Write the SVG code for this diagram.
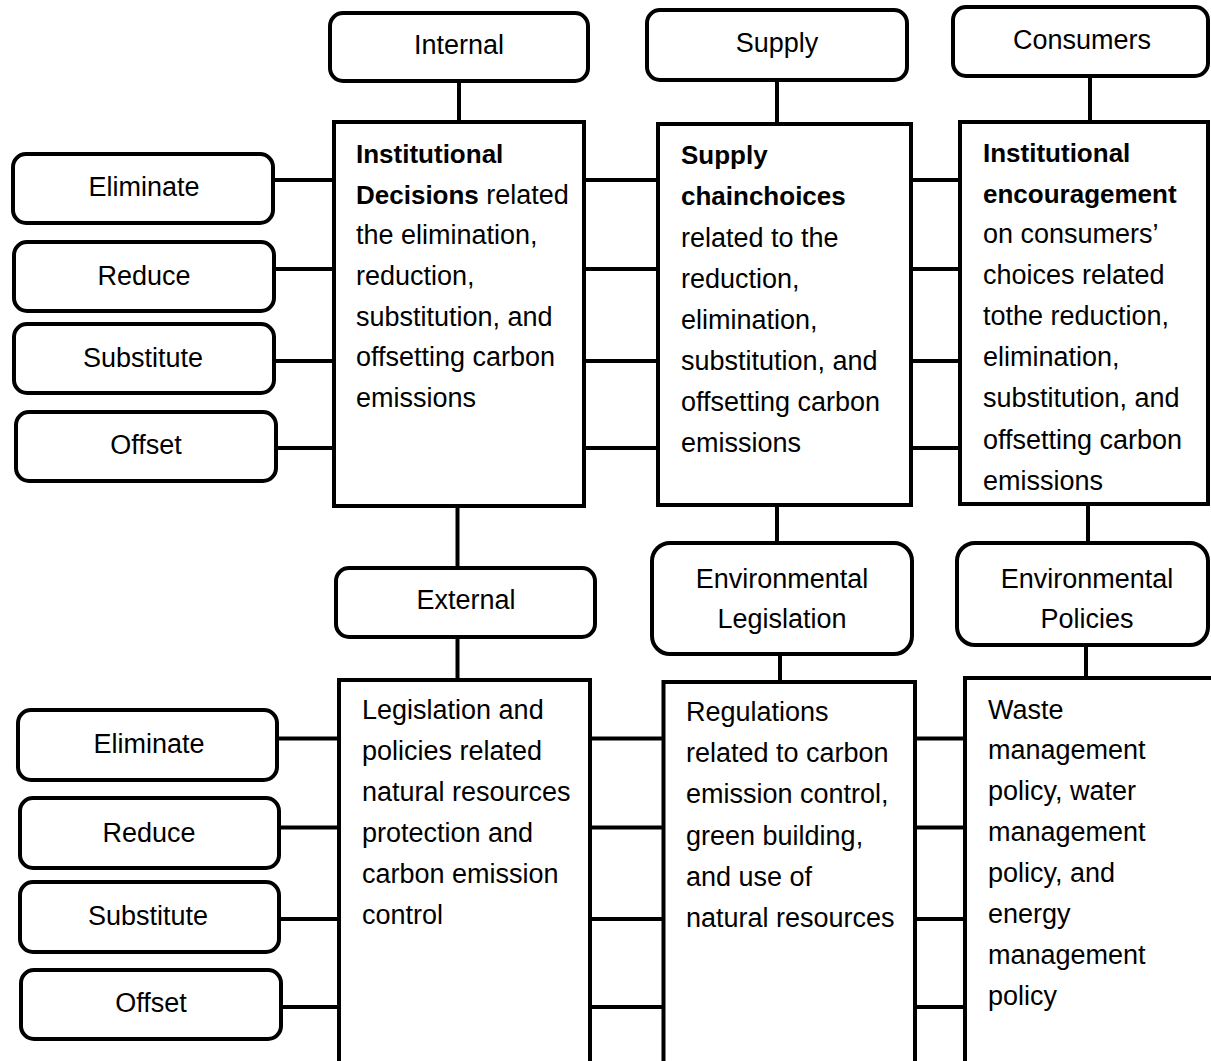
<svg xmlns="http://www.w3.org/2000/svg" width="1211" height="1061" viewBox="0 0 1211 1061">
<style>
.rb{fill:#fff;stroke:#000;stroke-width:4}
.bx{fill:#fff;stroke:#000;stroke-width:4}
.c{stroke:#000;stroke-width:4;fill:none}
text{font-family:"Liberation Sans",Arial,sans-serif;font-size:27px;fill:#000}
.m{text-anchor:middle}
.b{font-weight:bold;font-size:26px}
</style>
<rect width="1211" height="1061" fill="#fff"/>
<g id="connectors">
<line class="c" x1="459" y1="81" x2="459" y2="122"/>
<line class="c" x1="777" y1="80" x2="777" y2="124"/>
<line class="c" x1="1090" y1="76" x2="1090" y2="122"/>
<line class="c" x1="273" y1="180" x2="334" y2="180"/>
<line class="c" x1="274" y1="269" x2="334" y2="269"/>
<line class="c" x1="274" y1="361" x2="334" y2="361"/>
<line class="c" x1="276" y1="448" x2="334" y2="448"/>
<line class="c" x1="584" y1="180" x2="658" y2="180"/>
<line class="c" x1="584" y1="269" x2="658" y2="269"/>
<line class="c" x1="584" y1="361" x2="658" y2="361"/>
<line class="c" x1="584" y1="448" x2="658" y2="448"/>
<line class="c" x1="911" y1="180" x2="960" y2="180"/>
<line class="c" x1="911" y1="269" x2="960" y2="269"/>
<line class="c" x1="911" y1="361" x2="960" y2="361"/>
<line class="c" x1="911" y1="448" x2="960" y2="448"/>
<line class="c" x1="457.5" y1="506" x2="457.5" y2="568"/>
<line class="c" x1="777" y1="505" x2="777" y2="543"/>
<line class="c" x1="1088" y1="504" x2="1088" y2="543"/>
<line class="c" x1="457.5" y1="637" x2="457.5" y2="680"/>
<line class="c" x1="780" y1="654" x2="780" y2="682"/>
<line class="c" x1="1086" y1="645" x2="1086" y2="678"/>
<line class="c" x1="277" y1="738.5" x2="339" y2="738.5"/>
<line class="c" x1="279" y1="827.5" x2="339" y2="827.5"/>
<line class="c" x1="279" y1="919" x2="339" y2="919"/>
<line class="c" x1="281" y1="1007" x2="339" y2="1007"/>
<line class="c" x1="590" y1="738.5" x2="663.5" y2="738.5"/>
<line class="c" x1="590" y1="827.5" x2="663.5" y2="827.5"/>
<line class="c" x1="590" y1="919" x2="663.5" y2="919"/>
<line class="c" x1="590" y1="1007" x2="663.5" y2="1007"/>
<line class="c" x1="915" y1="738.5" x2="965" y2="738.5"/>
<line class="c" x1="915" y1="827.5" x2="965" y2="827.5"/>
<line class="c" x1="915" y1="919" x2="965" y2="919"/>
<line class="c" x1="915" y1="1007" x2="965" y2="1007"/>
</g>
<g id="internal"><rect class="rb" x="330" y="13" width="258" height="68" rx="13"/><text class="m" x="459" y="54">Internal</text></g>
<g id="supply"><rect class="rb" x="647" y="10" width="260" height="70" rx="13"/><text class="m" x="777" y="52">Supply</text></g>
<g id="consumers"><rect class="rb" x="953" y="7" width="255" height="69" rx="13"/><text class="m" x="1082" y="49">Consumers</text></g>
<g id="eliminate1"><rect class="rb" x="13" y="154" width="260" height="69" rx="13"/><text class="m" x="144" y="196">Eliminate</text></g>
<g id="reduce1"><rect class="rb" x="14" y="242" width="260" height="69" rx="13"/><text class="m" x="144" y="285">Reduce</text></g>
<g id="substitute1"><rect class="rb" x="14" y="324" width="260" height="69" rx="13"/><text class="m" x="143" y="367">Substitute</text></g>
<g id="offset1"><rect class="rb" x="16" y="412" width="260" height="69" rx="13"/><text class="m" x="146" y="454">Offset</text></g>
<g id="institutional-decisions"><rect class="bx" x="334" y="122" width="250" height="384"/>
<text x="356"><tspan class="b" x="356" y="163">Institutional</tspan><tspan class="b" x="356" y="204">Decisions</tspan><tspan> related</tspan><tspan x="356" y="244">the elimination,</tspan><tspan x="356" y="285">reduction,</tspan><tspan x="356" y="326">substitution, and</tspan><tspan x="356" y="366">offsetting carbon</tspan><tspan x="356" y="407">emissions</tspan></text></g>
<g id="supply-chain"><rect class="bx" x="658" y="124" width="253" height="381"/>
<text x="681"><tspan class="b" x="681" y="164">Supply</tspan><tspan class="b" x="681" y="205">chainchoices</tspan><tspan x="681" y="247">related to the</tspan><tspan x="681" y="288">reduction,</tspan><tspan x="681" y="329">elimination,</tspan><tspan x="681" y="370">substitution, and</tspan><tspan x="681" y="411">offsetting carbon</tspan><tspan x="681" y="452">emissions</tspan></text></g>
<g id="institutional-encouragement"><rect class="bx" x="960" y="122" width="248" height="382"/>
<text x="983"><tspan class="b" x="983" y="162">Institutional</tspan><tspan class="b" x="983" y="203">encouragement</tspan><tspan x="983" y="243">on consumers’</tspan><tspan x="983" y="284">choices related</tspan><tspan x="983" y="325">tothe reduction,</tspan><tspan x="983" y="366">elimination,</tspan><tspan x="983" y="407">substitution, and</tspan><tspan x="983" y="449">offsetting carbon</tspan><tspan x="983" y="490">emissions</tspan></text></g>
<g id="external"><rect class="rb" x="336" y="568" width="259" height="69" rx="13"/><text class="m" x="466" y="609">External</text></g>
<g id="env-legislation"><rect class="rb" x="652" y="543" width="260" height="111" rx="18"/><text class="m" x="782" y="588">Environmental</text><text class="m" x="782" y="628">Legislation</text></g>
<g id="env-policies"><rect class="rb" x="957" y="543" width="251" height="102" rx="18"/><text class="m" x="1087" y="588">Environmental</text><text class="m" x="1087" y="628">Policies</text></g>
<g id="eliminate2"><rect class="rb" x="18" y="710" width="259" height="70" rx="13"/><text class="m" x="149" y="753">Eliminate</text></g>
<g id="reduce2"><rect class="rb" x="20" y="798" width="259" height="70" rx="13"/><text class="m" x="149" y="842">Reduce</text></g>
<g id="substitute2"><rect class="rb" x="20" y="882" width="259" height="70" rx="13"/><text class="m" x="148" y="925">Substitute</text></g>
<g id="offset2"><rect class="rb" x="21" y="970" width="260" height="69" rx="13"/><text class="m" x="151" y="1012">Offset</text></g>
<g id="legislation-policies"><rect class="bx" x="339" y="680" width="251" height="400"/>
<text x="362"><tspan x="362" y="719">Legislation and</tspan><tspan x="362" y="760">policies related</tspan><tspan x="362" y="801">natural resources</tspan><tspan x="362" y="842">protection and</tspan><tspan x="362" y="883">carbon emission</tspan><tspan x="362" y="924">control</tspan></text></g>
<g id="regulations"><rect class="bx" x="663.5" y="682" width="251.5" height="400"/>
<text x="686"><tspan x="686" y="721">Regulations</tspan><tspan x="686" y="762">related to carbon</tspan><tspan x="686" y="803">emission control,</tspan><tspan x="686" y="845">green building,</tspan><tspan x="686" y="886">and use of</tspan><tspan x="686" y="927">natural resources</tspan></text></g>
<g id="waste-policies"><rect class="bx" x="965" y="678" width="260" height="400"/>
<text x="988"><tspan x="988" y="719">Waste</tspan><tspan x="988" y="759">management</tspan><tspan x="988" y="800">policy, water</tspan><tspan x="988" y="841">management</tspan><tspan x="988" y="882">policy, and</tspan><tspan x="988" y="923">energy</tspan><tspan x="988" y="964">management</tspan><tspan x="988" y="1005">policy</tspan></text></g>
</svg>
